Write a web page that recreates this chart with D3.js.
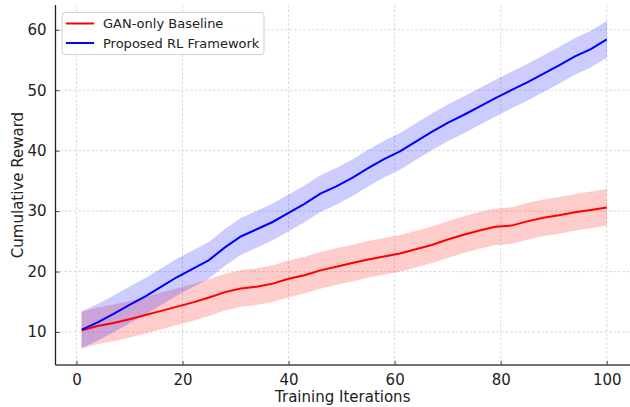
<!DOCTYPE html>
<html>
<head>
<meta charset="utf-8">
<script src="https://cdnjs.cloudflare.com/ajax/libs/d3/7.8.5/d3.min.js"></script>
<style>
  html, body { margin: 0; padding: 0; background: #fff; }
  svg { display: block; font-family: "DejaVu Sans", sans-serif; }
</style>
</head>
<body>
<svg width="630" height="407"></svg>
<script>
const width = 630, height = 407;
const svg = d3.select("svg");

// Data
const iterations = [1, 4, 7, 10, 13, 16, 19, 22, 25, 28, 31, 34, 37, 40, 43, 46, 49, 52, 55, 58,
                    61, 64, 67, 70, 73, 76, 79, 82, 85, 88, 91, 94, 97, 100];
const rlMean = [10.4, 11.6, 13.0, 14.5, 15.9, 17.5, 19.1, 20.5, 21.9, 24.0, 25.8, 27.0, 28.2, 29.7,
                31.2, 32.9, 34.1, 35.5, 37.1, 38.6, 39.9, 41.5, 43.1, 44.6, 45.9, 47.3, 48.7, 50.0,
                51.3, 52.7, 54.1, 55.6, 56.8, 58.4];
const ganMean = [10.3, 11.0, 11.5, 12.1, 12.8, 13.5, 14.2, 14.9, 15.7, 16.6, 17.2, 17.5, 18.0, 18.8,
                 19.4, 20.2, 20.8, 21.4, 22.0, 22.5, 23.0, 23.7, 24.4, 25.3, 26.1, 26.8, 27.4, 27.6,
                 28.3, 28.9, 29.3, 29.8, 30.2, 30.6];
const rlSpread = 3.0;
const ganSpread = 3.0;
const xTicks = [0, 20, 40, 60, 80, 100];
const yTicks = [10, 20, 30, 40, 50, 60];

const series = [
    { name: "GAN-only Baseline", mean: ganMean, spread: ganSpread, color: "#ff0000" },
    { name: "Proposed RL Framework", mean: rlMean, spread: rlSpread, color: "#0000ff" }
];

const plot = { left: 55.5, right: 633, top: 5, bottom: 365 };
const xScale = d3.scaleLinear().domain([-3.95, 104.95]).range([plot.left, plot.right]);
const yScale = d3.scaleLinear().domain([4.54, 64.1]).range([plot.bottom, plot.top]);

// Grid
const grid = svg.append("g").attr("stroke", "#cfcfcf").attr("stroke-width", 0.8).attr("stroke-dasharray", "2.5,2");
grid.selectAll(".gx").data(xTicks).enter().append("line")
    .attr("x1", d => xScale(d)).attr("x2", d => xScale(d))
    .attr("y1", plot.top).attr("y2", plot.bottom);
grid.selectAll(".gy").data(yTicks).enter().append("line")
    .attr("x1", plot.left).attr("x2", width)
    .attr("y1", d => yScale(d)).attr("y2", d => yScale(d));

// Bands and lines
series.forEach(s => {
    const pts = iterations.map((x, i) => ({ x, y: s.mean[i] }));
    const area = d3.area()
        .x(d => xScale(d.x))
        .y0(d => yScale(d.y - s.spread))
        .y1(d => yScale(d.y + s.spread));
    svg.append("path").datum(pts)
        .attr("d", area)
        .attr("fill", s.color).attr("fill-opacity", 0.2)
        .attr("stroke", s.color).attr("stroke-opacity", 0.1).attr("stroke-width", 0.5);
});
series.forEach(s => {
    const pts = iterations.map((x, i) => ({ x, y: s.mean[i] }));
    svg.append("path").datum(pts)
        .attr("d", d3.line().x(d => xScale(d.x)).y(d => yScale(d.y)))
        .attr("fill", "none").attr("stroke", s.color).attr("stroke-width", 2);
});

// Axes
const xAxis = svg.append("g").attr("transform", `translate(0,${plot.bottom})`)
    .call(d3.axisBottom(xScale).tickValues(xTicks).tickSizeInner(-4).tickSizeOuter(0).tickPadding(9));
const yAxis = svg.append("g").attr("transform", `translate(${plot.left},0)`)
    .call(d3.axisLeft(yScale).tickValues(yTicks).tickSizeInner(-4).tickSizeOuter(0).tickPadding(9));
xAxis.select(".domain").attr("d", `M${plot.left},0H${width}`).attr("stroke", "#444").attr("stroke-width", 1.3);
yAxis.select(".domain").attr("d", `M0,${plot.top}V${plot.bottom}`).attr("stroke", "#222").attr("stroke-width", 1.3);
[xAxis, yAxis].forEach(a => {
    a.selectAll(".tick line").attr("stroke", "#444").attr("stroke-width", 1);
    a.selectAll("text").style("font-size", "15px").style("font-family", "DejaVu Sans").attr("fill", "#222");
});

svg.append("text").attr("x", (plot.left + width) / 2).attr("y", 402)
    .attr("text-anchor", "middle").style("font-size", "15px").attr("fill", "#222")
    .text("Training Iterations");
svg.append("text").attr("transform", `translate(23,${(plot.top + plot.bottom) / 2}) rotate(-90)`)
    .attr("text-anchor", "middle").style("font-size", "15px").attr("fill", "#222")
    .text("Cumulative Reward");

// Legend
const legend = svg.append("g").attr("transform", "translate(62,12.5)");
legend.append("rect").attr("width", 202).attr("height", 42).attr("rx", 3)
    .attr("fill", "#fff").attr("fill-opacity", 0.85).attr("stroke", "#d0d0d0");
const items = legend.selectAll(".item").data(series).enter().append("g")
    .attr("transform", (d, i) => `translate(0,${11 + i * 19.5})`);
items.append("line").attr("x1", 4).attr("x2", 32).attr("stroke", d => d.color).attr("stroke-width", 2);
items.append("text").attr("x", 41).attr("dy", "0.35em").style("font-size", "13px").attr("fill", "#222")
    .text(d => d.name);
</script>
</body>
</html>
